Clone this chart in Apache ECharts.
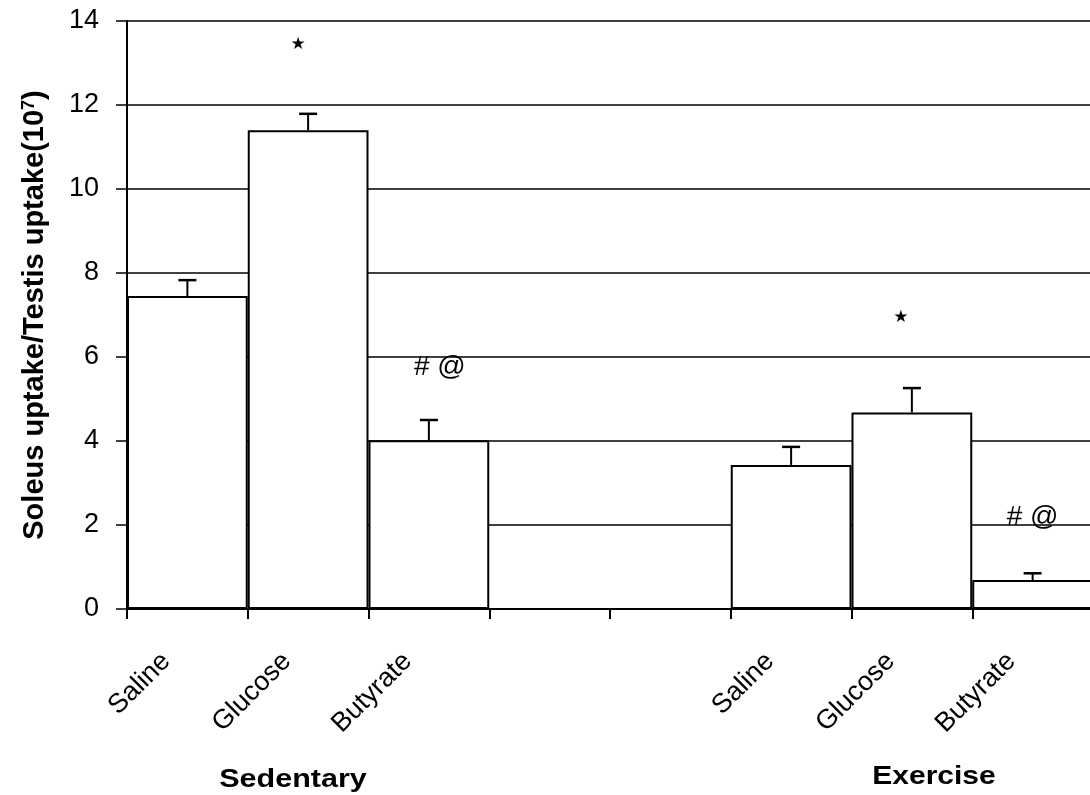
<!DOCTYPE html>
<html>
<head>
<meta charset="utf-8">
<script src="https://cdn.jsdelivr.net/npm/echarts@6/dist/echarts.min.js"></script>
<style>
  html, body { margin: 0; padding: 0; background: #fff; }
  #chart { width: 1090px; height: 795px; }
</style>
</head>
<body>
<div id="chart"></div>
<script>
// Treatment slots along the x axis (two empty slots separate the groups)
const categories = ['Saline', 'Glucose', 'Butyrate', '', '', 'Saline', 'Glucose', 'Butyrate'];
// Mean soleus/testis uptake ratio (x10^7) and its SEM
const meanRatio = [7.45, 11.40, 4.02, null, null, 3.43, 4.68, 0.69];
const semRatio  = [0.38, 0.39, 0.48, null, null, 0.43, 0.58, 0.16];
// Significance marks and the height at which each is written
const sigText   = [null, '★', '# @', null, null, null, '★', '# @'];
const sigHeight = [null, 13.45, 5.76, null, null, null, 6.93, 2.19];
// Group captions under the axis
const groupNames = ['Sedentary', 'Exercise'];
const yTicks = { min: 0, max: 14, interval: 2 };

const FONT = 'Liberation Sans, Arial, Helvetica, sans-serif';

const errorData = meanRatio
  .map((m, i) => (m == null ? null : [i, m, semRatio[i]]))
  .filter(Boolean);

const sigShift = [0, -10, 11, 0, 0, 0, -11, 0];
const sigData = sigText
  .map((t, i) => (t == null ? null : {
    value: [i, sigHeight[i]],
    label: t === '★'
      ? { offset: [sigShift[i], 0], fontSize: 17, fontFamily: 'DejaVu Sans' }
      : { offset: [sigShift[i], 0] }
  }))
  .filter(Boolean);

const chart = echarts.init(document.getElementById('chart'), null, { renderer: 'canvas' });

chart.setOption({
  animation: false,
  backgroundColor: '#fff',
  grid: { left: 127, width: 966, top: 21, bottom: 186, containLabel: false, outerBoundsMode: 'none' },
  xAxis: {
    type: 'category',
    data: categories,
    boundaryGap: true,
    axisLine: { show: true, lineStyle: { color: '#000', width: 2 } },
    axisTick: { show: true, length: 10, inside: false, lineStyle: { color: '#000', width: 2 } },
    axisLabel: {
      interval: 0,
      rotate: 45,
      margin: 27,
      padding: [0, 30, 0, 0],
      color: '#000',
      fontFamily: FONT,
      fontSize: 27
    },
    splitLine: { show: false }
  },
  yAxis: {
    type: 'value',
    min: yTicks.min,
    max: yTicks.max,
    interval: yTicks.interval,
    name: 'Soleus uptake/Testis uptake(10{sup|7})',
    nameLocation: 'middle',
    nameRotate: 90,
    nameGap: 78,
    nameTextStyle: {
      color: '#000',
      fontFamily: FONT,
      fontSize: 29,
      fontWeight: 'bold',
      rich: {
        sup: {
          fontFamily: FONT,
          fontSize: 18,
          fontWeight: 'bold',
          verticalAlign: 'top',
          color: '#000'
        }
      }
    },
    axisLine: { show: true, lineStyle: { color: '#000', width: 2 } },
    axisTick: { show: true, length: 11, inside: false, lineStyle: { color: '#000', width: 1.5 } },
    axisLabel: { color: '#000', fontFamily: FONT, fontSize: 27, margin: 28 },
    splitLine: { show: true, lineStyle: { color: '#000', width: 1.5 } }
  },
  graphic: [
    {
      type: 'text', x: 293, y: 780, scaleX: 1.22,
      style: { text: groupNames[0], font: 'bold 25px ' + FONT, fill: '#000', textAlign: 'center', textVerticalAlign: 'middle' }
    },
    {
      type: 'text', x: 934, y: 777, scaleX: 1.2,
      style: { text: groupNames[1], font: 'bold 25px ' + FONT, fill: '#000', textAlign: 'center', textVerticalAlign: 'middle' }
    }
  ],
  series: [
    {
      type: 'bar',
      data: meanRatio,
      barWidth: '100%',
      barCategoryGap: '0%',
      itemStyle: { color: '#fff', borderColor: '#000', borderWidth: 2 },
      z: 2
    },
    {
      type: 'custom',
      data: errorData,
      encode: { x: 0, y: 1 },
      z: 3,
      renderItem: function (params, api) {
        const i = api.value(0);
        const m = api.value(1);
        const e = api.value(2);
        const base = api.coord([i, m]);
        const top = api.coord([i, m + e]);
        const half = 9;
        return {
          type: 'group',
          children: [
            { type: 'line', shape: { x1: base[0], y1: base[1], x2: top[0], y2: top[1] }, style: { stroke: '#000', lineWidth: 2 } },
            { type: 'line', shape: { x1: top[0] - half, y1: top[1], x2: top[0] + half, y2: top[1] }, style: { stroke: '#000', lineWidth: 2.5 } }
          ]
        };
      }
    },
    {
      type: 'scatter',
      data: sigData,
      symbolSize: 0,
      z: 4,
      itemStyle: { opacity: 1 },
      label: {
        show: true,
        position: 'inside',
        color: '#000',
        opacity: 1,
        fontFamily: FONT,
        fontSize: 28,
        formatter: function (p) { return sigText[p.value[0]]; }
      }
    }
  ]
});
</script>
</body>
</html>
